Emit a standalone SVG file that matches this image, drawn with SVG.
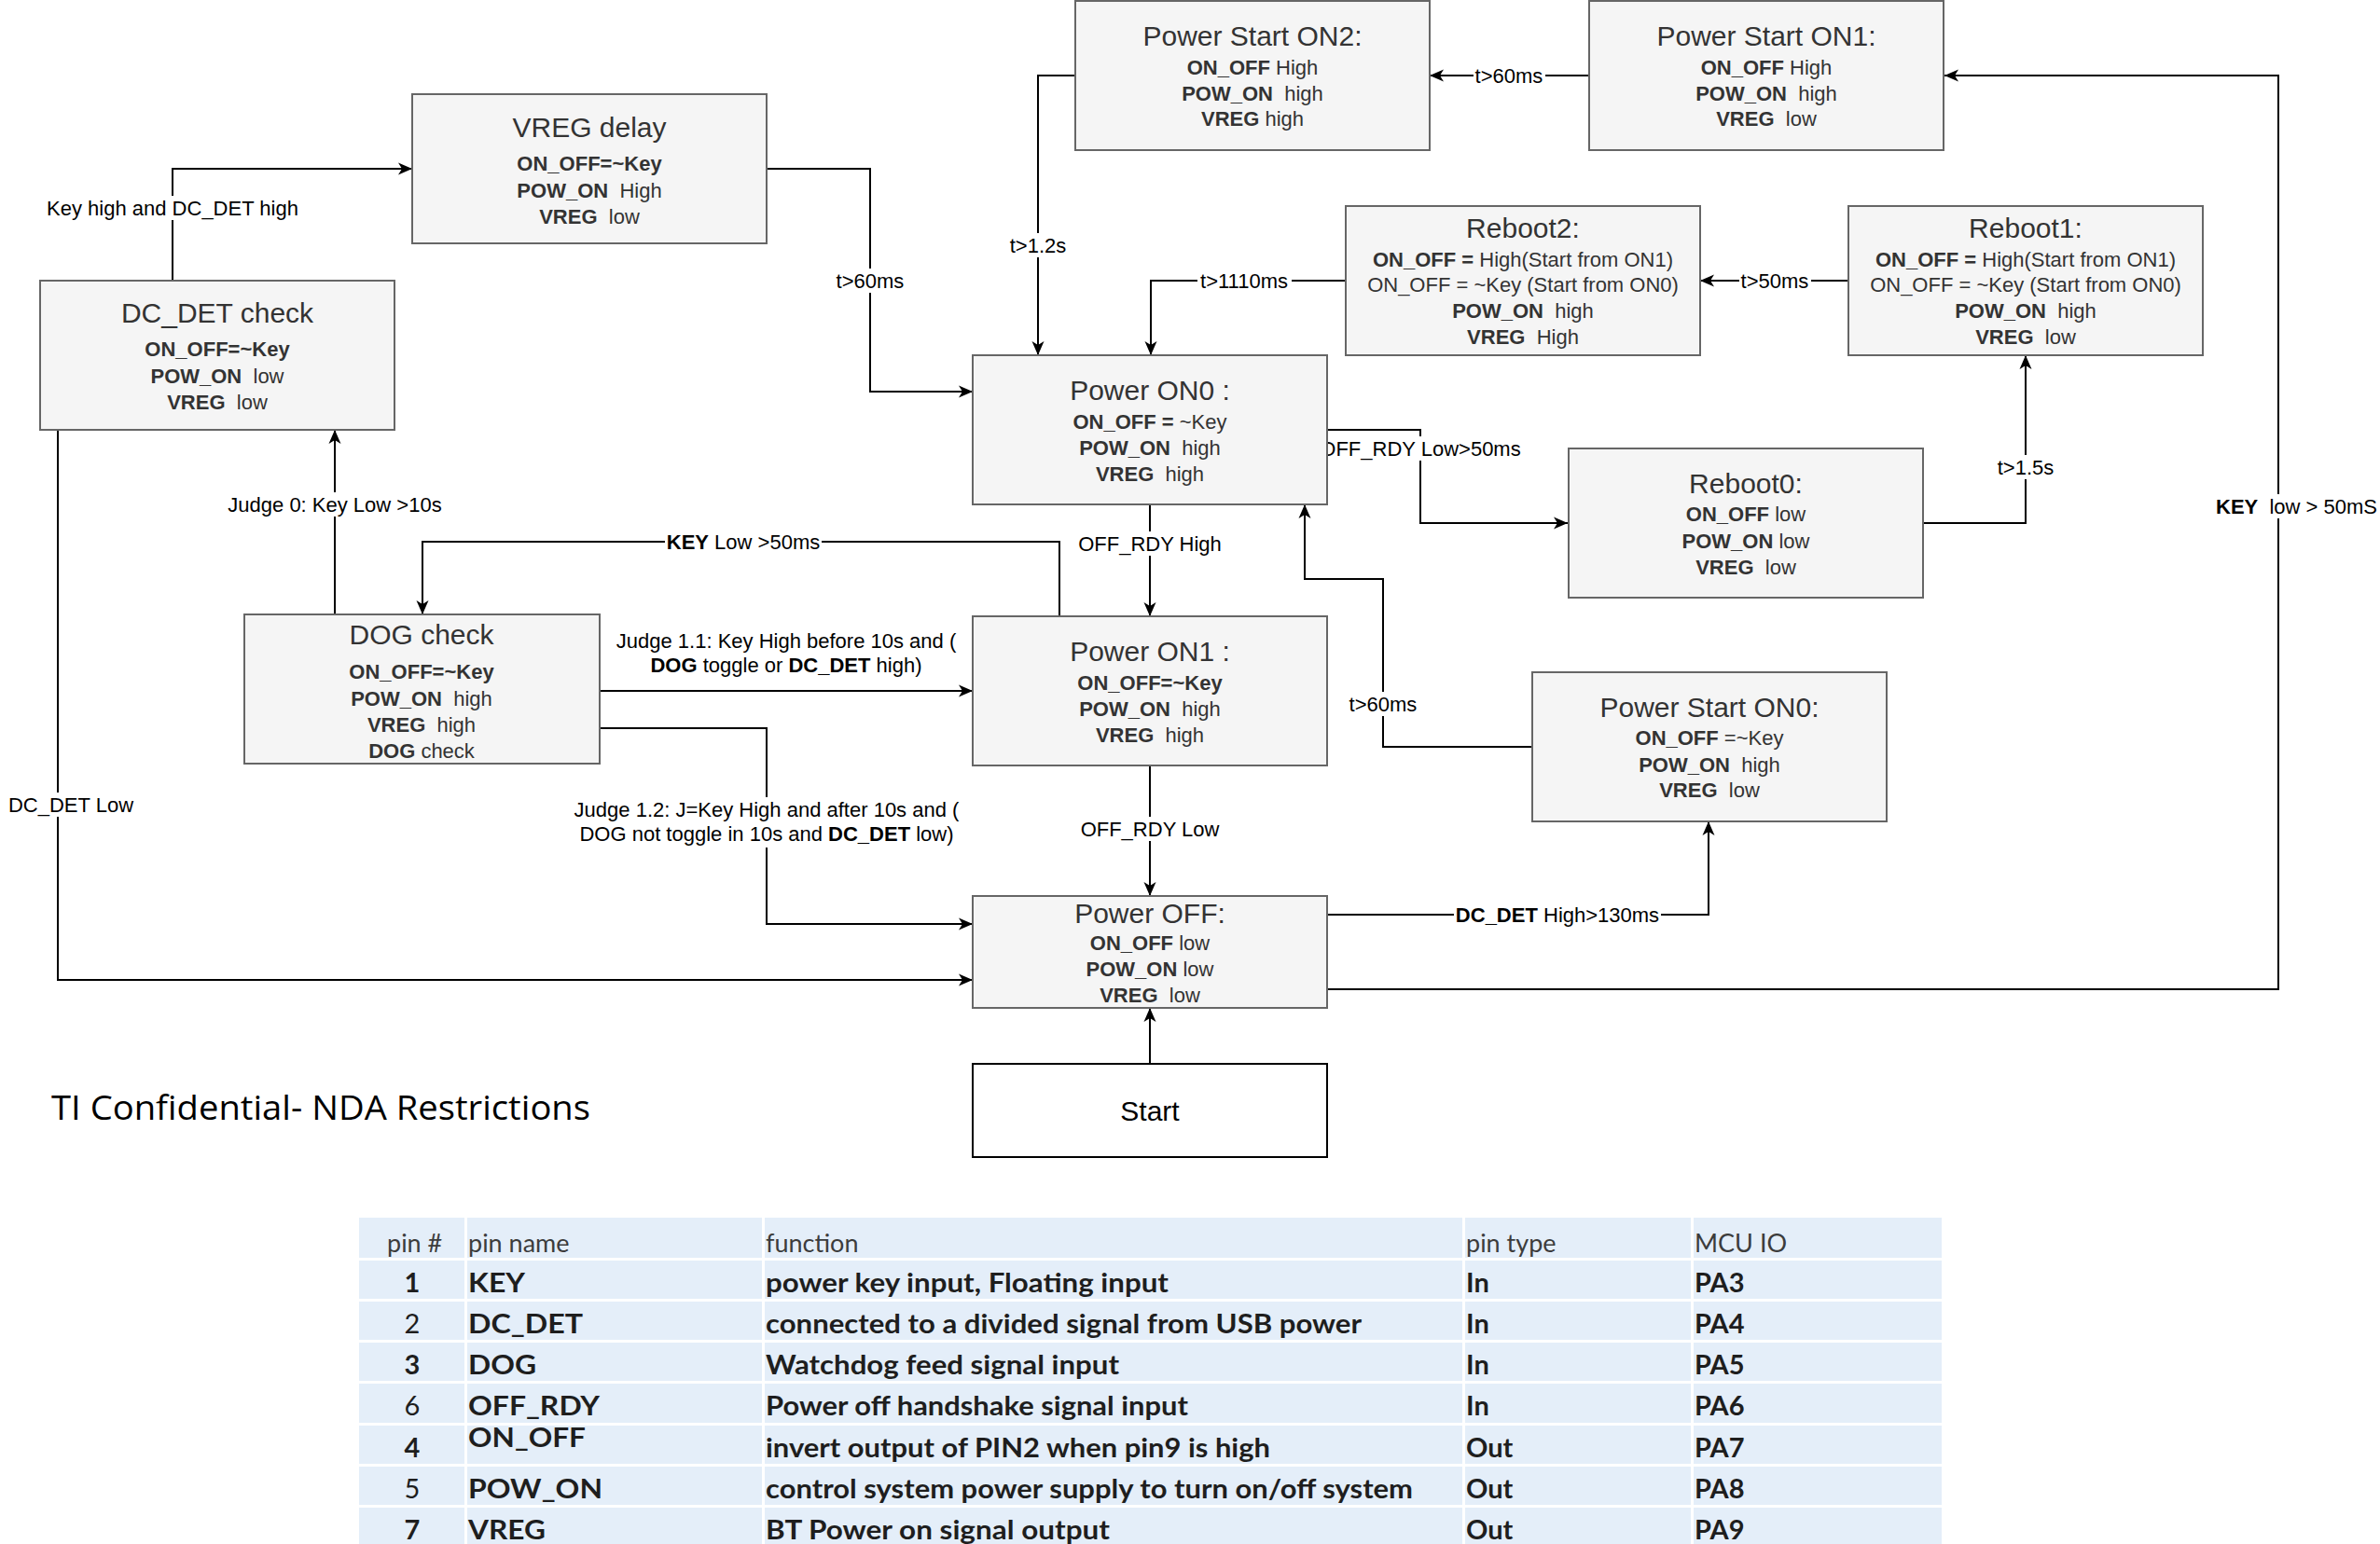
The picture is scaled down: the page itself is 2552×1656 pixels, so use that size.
<svg xmlns="http://www.w3.org/2000/svg" width="2552" height="1656" viewBox="0 0 2552 1656">
  <style>
    .box { fill: #f5f5f5; stroke: #666666; stroke-width: 2; }
    .start { fill: #ffffff; stroke: #000000; stroke-width: 2; }
    .t { font-family: "Liberation Sans", Arial, sans-serif; fill: #333333; text-anchor: middle; }
    .title { font-size: 30px; }
    .body { font-size: 22px; }
    .b { font-weight: bold; }
    .edge { fill: none; stroke: #000000; stroke-width: 2; marker-end: url(#arr); }
    .lbg { fill: #ffffff; }
    .lbl { font-family: "Liberation Sans", Arial, sans-serif; font-size: 22px; fill: #000000; text-anchor: middle; }
    .tbl { font-family: Lato, "Open Sans", sans-serif; fill: #1e1e1e; }
    .th { font-size: 27px; fill: #3c3c3c; }
    .td { font-size: 29px; }
    .sep { fill: #ffffff; }
  </style>
  <defs>
    <marker id="arr" markerUnits="userSpaceOnUse" markerWidth="16" markerHeight="14" viewBox="0 0 16 14" refX="15" refY="7" orient="auto">
      <path d="M15,7 L0,0.5 L4,7 L0,13.5 Z" fill="#000000"/>
    </marker>
  </defs>
  <rect width="2552" height="1656" fill="#ffffff"/>

  <!-- connectors (drawn beneath the state boxes) -->
  <g id="connectors">
    <path class="edge" d="M185,301 V181 H442"/>
    <path class="edge" d="M822,181 H933 V420 H1043"/>
    <path class="edge" d="M1704,81 H1533"/>
    <path class="edge" d="M1152,81 H1113 V381"/>
    <path class="edge" d="M1982,301 H1823"/>
    <path class="edge" d="M1442,301 H1234 V381"/>
    <path class="edge" d="M1423,461 H1523 V561 H1681"/>
    <path class="edge" d="M2062,561 H2172 V381"/>
    <path class="edge" d="M1233,541 V661"/>
    <path class="edge" d="M1136,661 V581 H453 V659"/>
    <path class="edge" d="M359,659 V461"/>
    <path class="edge" d="M643,741 H1043"/>
    <path class="edge" d="M643,781 H822 V991 H1043"/>
    <path class="edge" d="M1233,821 V961"/>
    <path class="edge" d="M62,461 V1051 H1043"/>
    <path class="edge" d="M1423,981 H1832 V881"/>
    <path class="edge" d="M1423,1061 H2443 V81 H2085"/>
    <path class="edge" d="M1643,801 H1483 V621 H1399 V541"/>
    <path class="edge" d="M1233,1141 V1081"/>

    <!-- edge labels -->
    <rect class="lbg" x="48" y="210" width="274" height="26"/>
    <text class="lbl" x="185" y="231">Key high and DC_DET high</text>
    <rect class="lbg" x="895" y="288" width="77" height="26"/>
    <text class="lbl" x="933" y="309">t&gt;60ms</text>
    <rect class="lbg" x="1580" y="68" width="77" height="26"/>
    <text class="lbl" x="1618" y="89">t&gt;60ms</text>
    <rect class="lbg" x="1081" y="250" width="65" height="26"/>
    <text class="lbl" x="1113" y="271">t&gt;1.2s</text>
    <rect class="lbg" x="1865" y="288" width="77" height="26"/>
    <text class="lbl" x="1903" y="309">t&gt;50ms</text>
    <rect class="lbg" x="1284" y="288" width="101" height="26"/>
    <text class="lbl" x="1334" y="309">t&gt;1110ms</text>
    <rect class="lbg" x="1413" y="468" width="220" height="26"/>
    <text class="lbl" x="1523" y="489">OFF_RDY Low&gt;50ms</text>
    <rect class="lbg" x="2140" y="488" width="65" height="26"/>
    <text class="lbl" x="2172" y="509">t&gt;1.5s</text>
    <rect class="lbg" x="1154" y="570" width="158" height="26"/>
    <text class="lbl" x="1233" y="591">OFF_RDY High</text>
    <rect class="lbg" x="713" y="568" width="168" height="26"/>
    <text class="lbl" x="797" y="589"><tspan class="b">KEY</tspan> Low &gt;50ms</text>
    <rect class="lbg" x="243" y="528" width="233" height="26"/>
    <text class="lbl" x="359" y="549">Judge 0: Key Low &gt;10s</text>
    <rect class="lbg" x="657" y="674" width="372" height="54"/>
    <text class="lbl" x="843" y="695">Judge 1.1: Key High before 10s and (</text>
    <text class="lbl" x="843" y="721"><tspan class="b">DOG</tspan> toggle or <tspan class="b">DC_DET</tspan> high)</text>
    <rect class="lbg" x="614" y="855" width="416" height="54"/>
    <text class="lbl" x="822" y="876">Judge 1.2: J=Key High and after 10s and (</text>
    <text class="lbl" x="822" y="902">DOG not toggle in 10s and <tspan class="b">DC_DET</tspan> low)</text>
    <rect class="lbg" x="1157" y="876" width="153" height="26"/>
    <text class="lbl" x="1233" y="897">OFF_RDY Low</text>
    <rect class="lbg" x="7" y="850" width="138" height="26"/>
    <text class="lbl" x="76" y="871">DC_DET Low</text>
    <rect class="lbg" x="1559" y="968" width="222" height="26"/>
    <text class="lbl" x="1670" y="989"><tspan class="b">DC_DET</tspan> High&gt;130ms</text>
    <rect class="lbg" x="2372" y="530" width="178" height="26"/>
    <text class="lbl" x="2376" y="551" style="text-anchor:start"><tspan class="b">KEY</tspan>&#160; low &gt; 50mS</text>
    <rect class="lbg" x="1445" y="742" width="77" height="26"/>
    <text class="lbl" x="1483" y="763">t&gt;60ms</text>
  </g>

  <!-- state boxes -->
  <g id="vreg-delay">
    <rect class="box" x="442" y="101" width="380" height="160"/>
    <text class="t title" x="632" y="147">VREG delay</text>
    <text class="t body b" x="632" y="183">ON_OFF=~Key</text>
    <text class="t body" x="632" y="212"><tspan class="b">POW_ON</tspan>&#160; High</text>
    <text class="t body" x="632" y="240"><tspan class="b">VREG</tspan>&#160; low</text>
  </g>

  <g id="dc-det-check">
    <rect class="box" x="43" y="301" width="380" height="160"/>
    <text class="t title" x="233" y="346">DC_DET check</text>
    <text class="t body b" x="233" y="382">ON_OFF=~Key</text>
    <text class="t body" x="233" y="411"><tspan class="b">POW_ON</tspan>&#160; low</text>
    <text class="t body" x="233" y="439"><tspan class="b">VREG</tspan>&#160; low</text>
  </g>

  <g id="power-start-on2">
    <rect class="box" x="1153" y="1" width="380" height="160"/>
    <text class="t title" x="1343" y="49">Power Start ON2:</text>
    <text class="t body" x="1343" y="80"><tspan class="b">ON_OFF</tspan> High</text>
    <text class="t body" x="1343" y="108"><tspan class="b">POW_ON</tspan>&#160; high</text>
    <text class="t body" x="1343" y="135"><tspan class="b">VREG</tspan> high</text>
  </g>

  <g id="power-start-on1">
    <rect class="box" x="1704" y="1" width="380" height="160"/>
    <text class="t title" x="1894" y="49">Power Start ON1:</text>
    <text class="t body" x="1894" y="80"><tspan class="b">ON_OFF</tspan> High</text>
    <text class="t body" x="1894" y="108"><tspan class="b">POW_ON</tspan>&#160; high</text>
    <text class="t body" x="1894" y="135"><tspan class="b">VREG</tspan>&#160; low</text>
  </g>

  <g id="reboot2">
    <rect class="box" x="1443" y="221" width="380" height="160"/>
    <text class="t title" x="1633" y="255">Reboot2:</text>
    <text class="t body" x="1633" y="286"><tspan class="b">ON_OFF =</tspan> High(Start from ON1)</text>
    <text class="t body" x="1633" y="313">ON_OFF = ~Key (Start from ON0)</text>
    <text class="t body" x="1633" y="341"><tspan class="b">POW_ON</tspan>&#160; high</text>
    <text class="t body" x="1633" y="369"><tspan class="b">VREG</tspan>&#160; High</text>
  </g>

  <g id="reboot1">
    <rect class="box" x="1982" y="221" width="380" height="160"/>
    <text class="t title" x="2172" y="255">Reboot1:</text>
    <text class="t body" x="2172" y="286"><tspan class="b">ON_OFF =</tspan> High(Start from ON1)</text>
    <text class="t body" x="2172" y="313">ON_OFF = ~Key (Start from ON0)</text>
    <text class="t body" x="2172" y="341"><tspan class="b">POW_ON</tspan>&#160; high</text>
    <text class="t body" x="2172" y="369"><tspan class="b">VREG</tspan>&#160; low</text>
  </g>

  <g id="power-on0">
    <rect class="box" x="1043" y="381" width="380" height="160"/>
    <text class="t title" x="1233" y="429">Power ON0 :</text>
    <text class="t body" x="1233" y="460"><tspan class="b">ON_OFF =</tspan> ~Key</text>
    <text class="t body" x="1233" y="488"><tspan class="b">POW_ON</tspan>&#160; high</text>
    <text class="t body" x="1233" y="516"><tspan class="b">VREG</tspan>&#160; high</text>
  </g>

  <g id="reboot0">
    <rect class="box" x="1682" y="481" width="380" height="160"/>
    <text class="t title" x="1872" y="529">Reboot0:</text>
    <text class="t body" x="1872" y="559"><tspan class="b">ON_OFF</tspan> low</text>
    <text class="t body" x="1872" y="588"><tspan class="b">POW_ON</tspan> low</text>
    <text class="t body" x="1872" y="616"><tspan class="b">VREG</tspan>&#160; low</text>
  </g>

  <g id="dog-check">
    <rect class="box" x="262" y="659" width="381" height="160"/>
    <text class="t title" x="452" y="691">DOG check</text>
    <text class="t body b" x="452" y="728">ON_OFF=~Key</text>
    <text class="t body" x="452" y="757"><tspan class="b">POW_ON</tspan>&#160; high</text>
    <text class="t body" x="452" y="785"><tspan class="b">VREG</tspan>&#160; high</text>
    <text class="t body" x="452" y="813"><tspan class="b">DOG</tspan> check</text>
  </g>

  <g id="power-on1">
    <rect class="box" x="1043" y="661" width="380" height="160"/>
    <text class="t title" x="1233" y="709">Power ON1 :</text>
    <text class="t body b" x="1233" y="740">ON_OFF=~Key</text>
    <text class="t body" x="1233" y="768"><tspan class="b">POW_ON</tspan>&#160; high</text>
    <text class="t body" x="1233" y="796"><tspan class="b">VREG</tspan>&#160; high</text>
  </g>

  <g id="power-start-on0">
    <rect class="box" x="1643" y="721" width="380" height="160"/>
    <text class="t title" x="1833" y="769">Power Start ON0:</text>
    <text class="t body" x="1833" y="799"><tspan class="b">ON_OFF</tspan> =~Key</text>
    <text class="t body" x="1833" y="828"><tspan class="b">POW_ON</tspan>&#160; high</text>
    <text class="t body" x="1833" y="855"><tspan class="b">VREG</tspan>&#160; low</text>
  </g>

  <g id="power-off">
    <rect class="box" x="1043" y="961" width="380" height="120"/>
    <text class="t title" x="1233" y="990">Power OFF:</text>
    <text class="t body" x="1233" y="1019"><tspan class="b">ON_OFF</tspan> low</text>
    <text class="t body" x="1233" y="1047"><tspan class="b">POW_ON</tspan> low</text>
    <text class="t body" x="1233" y="1075"><tspan class="b">VREG</tspan>&#160; low</text>
  </g>

  <g id="start">
    <rect class="start" x="1043" y="1141" width="380" height="100"/>
    <text class="t title" x="1233" y="1202" style="fill:#000000">Start</text>
  </g>

  <!-- confidentiality note -->
  <text x="55" y="1201" font-family="'Open Sans', 'Noto Sans', sans-serif" font-size="37" fill="#000000" textLength="578" lengthAdjust="spacingAndGlyphs">TI Confidential- NDA Restrictions</text>

  <!-- pin assignment table -->
  <g id="pin-table">
    <rect x="385" y="1306" width="1697" height="350" fill="#e4eef9"/>
    <rect class="sep" x="385" y="1349" width="1697" height="3"/>
    <rect class="sep" x="385" y="1393" width="1697" height="3"/>
    <rect class="sep" x="385" y="1437" width="1697" height="3"/>
    <rect class="sep" x="385" y="1481" width="1697" height="3"/>
    <rect class="sep" x="385" y="1526" width="1697" height="3"/>
    <rect class="sep" x="385" y="1570" width="1697" height="3"/>
    <rect class="sep" x="385" y="1614" width="1697" height="3"/>
    <rect class="sep" x="498" y="1306" width="3" height="350"/>
    <rect class="sep" x="817" y="1306" width="3" height="350"/>
    <rect class="sep" x="1568" y="1306" width="3" height="350"/>
    <rect class="sep" x="1813" y="1306" width="3" height="350"/>

    <g class="tbl th">
      <text x="415" y="1343">pin #</text>
      <text x="502" y="1343">pin name</text>
      <text x="821" y="1343">function</text>
      <text x="1572" y="1343">pin type</text>
      <text x="1817" y="1343">MCU IO</text>
    </g>

    <g class="tbl td" text-anchor="middle">
      <text x="442" y="1386" font-weight="bold">1</text>
      <text x="442" y="1430">2</text>
      <text x="442" y="1474" font-weight="bold">3</text>
      <text x="442" y="1518">6</text>
      <text x="442" y="1563" font-weight="bold">4</text>
      <text x="442" y="1607">5</text>
      <text x="442" y="1651" font-weight="bold">7</text>
    </g>

    <g class="tbl td" font-weight="bold">
      <text x="502" y="1386" textLength="61" lengthAdjust="spacingAndGlyphs">KEY</text>
      <text x="502" y="1430" textLength="123" lengthAdjust="spacingAndGlyphs">DC_DET</text>
      <text x="502" y="1474" textLength="73" lengthAdjust="spacingAndGlyphs">DOG</text>
      <text x="502" y="1518" textLength="141" lengthAdjust="spacingAndGlyphs">OFF_RDY</text>
      <text x="502" y="1552" textLength="126" lengthAdjust="spacingAndGlyphs">ON_OFF</text>
      <text x="502" y="1607" textLength="144" lengthAdjust="spacingAndGlyphs">POW_ON</text>
      <text x="502" y="1651" textLength="83" lengthAdjust="spacingAndGlyphs">VREG</text>

      <text x="821" y="1386" textLength="432" lengthAdjust="spacingAndGlyphs">power key input, Floating input</text>
      <text x="821" y="1430" textLength="639" lengthAdjust="spacingAndGlyphs">connected to a divided signal from USB power</text>
      <text x="821" y="1474" textLength="379" lengthAdjust="spacingAndGlyphs">Watchdog feed signal input</text>
      <text x="821" y="1518" textLength="453" lengthAdjust="spacingAndGlyphs">Power off handshake signal input</text>
      <text x="821" y="1563" textLength="541" lengthAdjust="spacingAndGlyphs">invert output of PIN2 when pin9 is high</text>
      <text x="821" y="1607" textLength="694" lengthAdjust="spacingAndGlyphs">control system power supply to turn on/off system</text>
      <text x="821" y="1651" textLength="369" lengthAdjust="spacingAndGlyphs">BT Power on signal output</text>

      <text x="1572" y="1386">In</text>
      <text x="1572" y="1430">In</text>
      <text x="1572" y="1474">In</text>
      <text x="1572" y="1518">In</text>
      <text x="1572" y="1563">Out</text>
      <text x="1572" y="1607">Out</text>
      <text x="1572" y="1651">Out</text>

      <text x="1817" y="1386">PA3</text>
      <text x="1817" y="1430">PA4</text>
      <text x="1817" y="1474">PA5</text>
      <text x="1817" y="1518">PA6</text>
      <text x="1817" y="1563">PA7</text>
      <text x="1817" y="1607">PA8</text>
      <text x="1817" y="1651">PA9</text>
    </g>
  </g>
</svg>
